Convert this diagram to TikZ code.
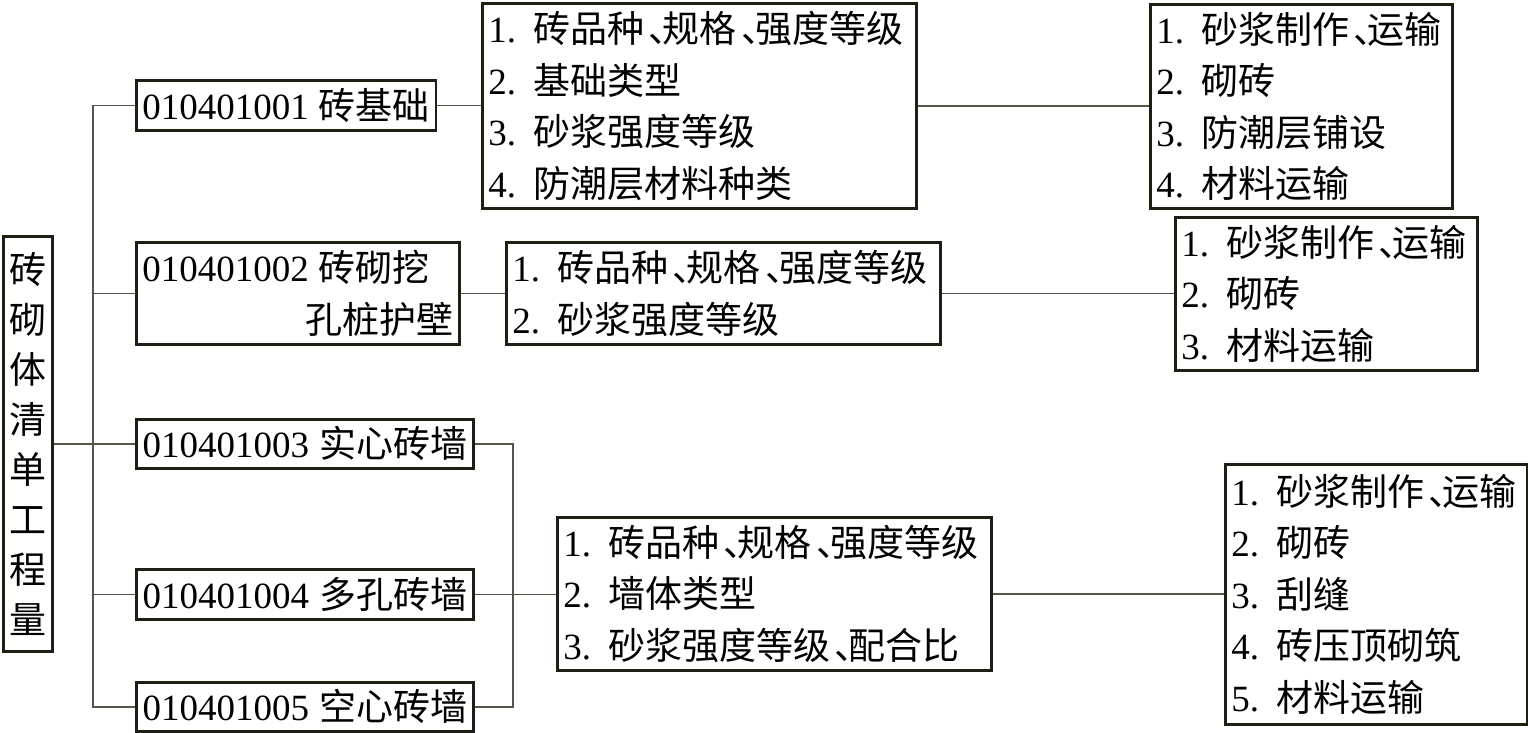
\documentclass[tikz,border=0pt]{standalone}
\usepackage{fontspec}
\setmainfont{Liberation Serif}
\newfontfamily\cjk{Noto Sans CJK SC}
\definecolor{boxc}{HTML}{1E1E14}
\definecolor{linec}{HTML}{55554A}
\newcommand\fs{\fontsize{37pt}{51.5pt}\selectfont}
\newcommand\rfs{\fontsize{37pt}{50pt}\selectfont}
\newcommand\dn{\hspace{0.12em}\makebox[0.38em][l]{\cjk 、}}
\newcommand\itm[2]{\makebox[45pt][l]{#1.}{\cjk #2}}
\newcommand\code[2]{#1\hspace{10pt}{\cjk #2}}
\tikzset{
  bx/.style={draw=boxc, line width=2.6pt, anchor=north west, inner xsep=6pt, inner ysep=0pt, font=\fs, fill=white},
  lst/.style={bx, align=left},
  conn/.style={draw=linec, line width=1.4pt},
}
\begin{document}
\begin{tikzpicture}[x=1pt,y=-1pt]
\useasboundingbox[fill=white] (0,0) rectangle (1528,732);
% root
\node[bx, font=\rfs, align=center, minimum width=49pt, minimum height=415pt, inner xsep=0pt] (root) at (2,235)
  {\cjk 砖\\\cjk 砌\\\cjk 体\\\cjk 清\\\cjk 单\\\cjk 工\\\cjk 程\\\cjk 量};
% code boxes
\node[bx, minimum width=299pt, minimum height=50pt] (b1) at (135,79) {\code{010401001}{砖基础}};
\node[lst, text width=311pt, minimum height=102pt] (b2) at (135,241)
  {\code{010401002}{砖砌挖}\\\makebox[\linewidth][r]{\cjk 孔桩护壁}};
\node[bx, minimum width=337pt, minimum height=49pt] (b3) at (135,418) {\code{010401003}{实心砖墙}};
\node[bx, minimum width=337pt, minimum height=50pt] (b4) at (135,568) {\code{010401004}{多孔砖墙}};
\node[bx, minimum width=337pt, minimum height=49pt] (b5) at (135,681) {\code{010401005}{空心砖墙}};
% feature boxes
\node[lst, text width=422pt, minimum height=205pt] (A) at (481,2)
  {\itm{1}{砖品种\dn 规格\dn 强度等级}\\\itm{2}{基础类型}\\\itm{3}{砂浆强度等级}\\\itm{4}{防潮层材料种类}};
\node[lst, text width=422pt, minimum height=102pt] (B) at (505,241)
  {\itm{1}{砖品种\dn 规格\dn 强度等级}\\\itm{2}{砂浆强度等级}};
\node[lst, text width=422pt, minimum height=153pt] (C) at (556,516)
  {\itm{1}{砖品种\dn 规格\dn 强度等级}\\\itm{2}{墙体类型}\\\itm{3}{砂浆强度等级\dn 配合比}};
% work boxes
\node[lst, text width=290pt, minimum height=204pt] (D) at (1149,3)
  {\itm{1}{砂浆制作\dn 运输}\\\itm{2}{砌砖}\\\itm{3}{防潮层铺设}\\\itm{4}{材料运输}};
\node[lst, text width=290pt, minimum height=153pt] (E) at (1174,216)
  {\itm{1}{砂浆制作\dn 运输}\\\itm{2}{砌砖}\\\itm{3}{材料运输}};
\node[lst, text width=290pt, minimum height=260pt] (F) at (1224,463)
  {\itm{1}{砂浆制作\dn 运输}\\\itm{2}{砌砖}\\\itm{3}{刮缝}\\\itm{4}{砖压顶砌筑}\\\itm{5}{材料运输}};
% connectors
\coordinate (t) at (93,0);
\coordinate (k) at (513,0);
\draw[conn] (b1.west) -- (b1.west -| t) -- (b5.west -| t) -- (b5.west);
\draw[conn] (b2.west) -- (b2.west -| t);
\draw[conn] (b3.west) -- (b3.west -| t);
\draw[conn] (b4.west) -- (b4.west -| t);
\draw[conn] (root.east) -- (root.east -| t);
\draw[conn] (b3.east) -- (b3.east -| k) -- (b5.east -| k) -- (b5.east);
\draw[conn] (b4.east) -- (b4.east -| C.west);
\draw[conn] (b1.east) -- (b1.east -| A.west);
\draw[conn] (A.east) -- (A.east -| D.west);
\draw[conn] (b2.east) -- (b2.east -| B.west);
\draw[conn] (B.east) -- (B.east -| E.west);
\draw[conn] (C.east) -- (C.east -| F.west);
\end{tikzpicture}
\end{document}
